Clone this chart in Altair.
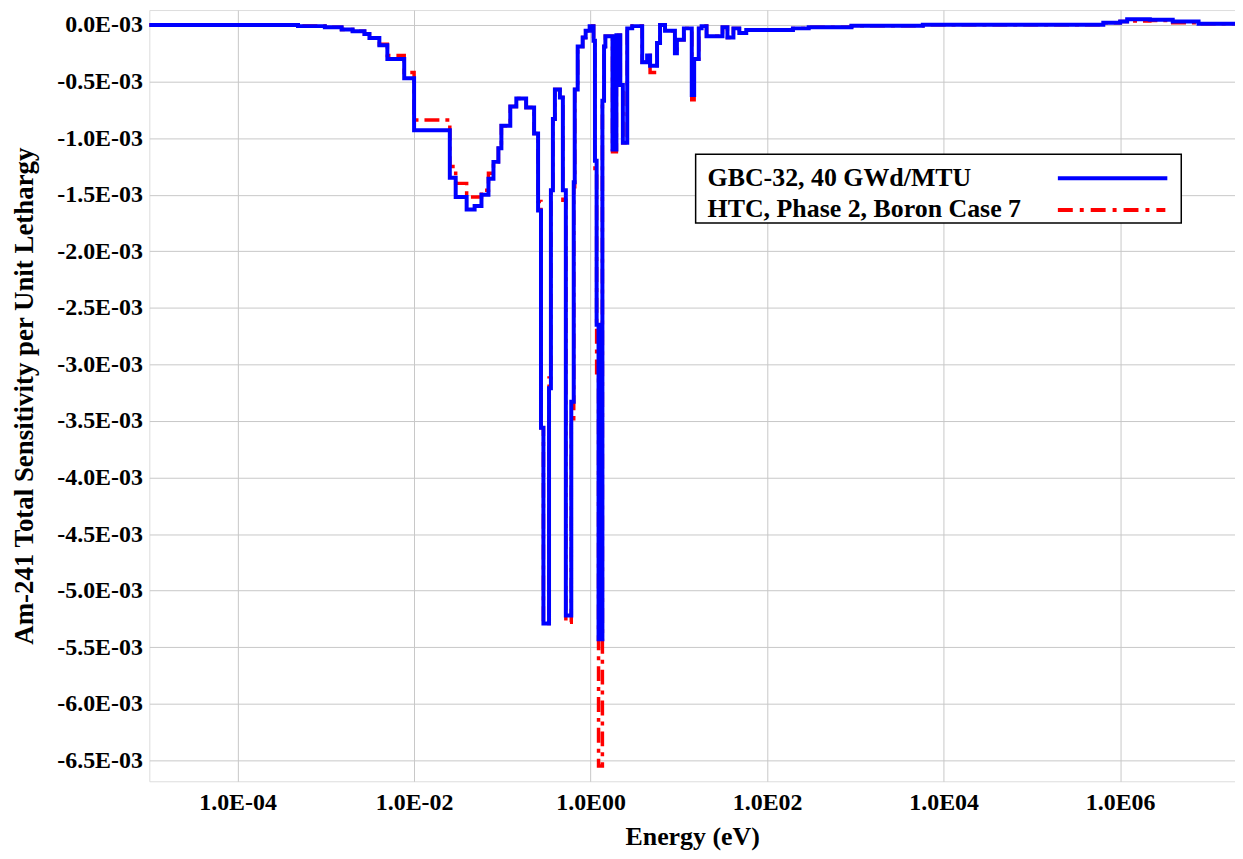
import altair as alt
import pandas as pd

# Energy group lower bounds (eV) and sensitivities (units of 1E-03 per unit lethargy)
energy_ev = [
    1e-5, 4.84e-4, 9.75e-4, 1.51e-3, 2.01e-3, 2.74e-3, 3.12e-3, 4.04e-3, 4.98e-3, 7.73e-3,
    1.0e-2, 2.54e-2, 2.96e-2, 3.94e-2, 4.85e-2, 5.80e-2, 6.96e-2, 7.93e-2, 9.02e-2, 9.75e-2,
    0.123, 0.144, 0.186, 0.229, 0.254, 0.274, 0.292, 0.338, 0.355, 0.374,
    0.394, 0.449, 0.485, 0.524, 0.604, 0.644, 0.661, 0.714, 0.813, 0.879,
    0.975, 1.08, 1.12, 1.17, 1.23, 1.36, 1.42, 1.47, 1.77, 1.96,
    2.17, 2.32, 2.60, 2.96, 3.84, 4.37, 4.72, 5.66, 6.12, 6.97,
    9.02, 9.50, 11.4, 14.0, 14.9, 16.8, 18.1, 20.6, 31.2, 35.5,
    41.5, 48.4, 58.0, 196.0, 296.0, 902.0, 5.81e3, 6.44e5, 1.0e6, 1.2e6,
    2.17e6, 3.94e6, 7.73e6, 2.0e7,
]

gbc32 = [
    0.0, -0.01, -0.02, -0.04, -0.055, -0.08, -0.115, -0.18, -0.30, -0.47,
    -0.93, -1.35, -1.52, -1.63, -1.60, -1.50, -1.36, -1.21, -1.09, -0.89,
    -0.72, -0.65, -0.73, -0.96, -1.64, -3.56, -5.29, -3.21, -1.46, -0.83,
    -0.57, -0.64, -1.46, -5.22, -3.33, -1.39, -0.57, -0.19, -0.11, -0.05,
    -0.01, -0.14, -1.20, -2.65, -5.43, -0.67, -0.19, -0.10, -1.10, -0.09,
    -0.53, -1.04, -0.03, -0.01, -0.33, -0.27, -0.36, -0.16, 0.0, -0.05,
    -0.25, -0.13, -0.03, -0.62, -0.30, -0.03, -0.01, -0.10, -0.02, -0.11,
    -0.03, -0.07, -0.045, -0.03, -0.02, -0.006, 0.003, 0.02, 0.03, 0.05,
    0.047, 0.03, 0.01, 0.01,
]

htc = [
    0.0, -0.01, -0.02, -0.04, -0.055, -0.08, -0.115, -0.17, -0.27, -0.42,
    -0.84, -1.25, -1.40, -1.52, -1.52, -1.46, -1.31, -1.21, -1.09, -0.89,
    -0.72, -0.65, -0.73, -0.96, -1.56, -3.56, -5.29, -3.12, -1.43, -0.83,
    -0.57, -0.64, -1.55, -5.28, -3.48, -1.43, -0.57, -0.19, -0.11, -0.05,
    -0.01, -0.14, -1.30, -3.10, -6.55, -0.67, -0.19, -0.10, -1.12, -0.09,
    -0.53, -1.04, -0.03, -0.01, -0.33, -0.27, -0.42, -0.16, 0.0, -0.05,
    -0.25, -0.13, -0.03, -0.66, -0.30, -0.03, -0.01, -0.10, -0.02, -0.11,
    -0.03, -0.07, -0.045, -0.03, -0.02, -0.006, 0.003, 0.02, 0.03, 0.035,
    0.04, 0.02, 0.01, 0.01,
]

series_names = ["GBC-32, 40 GWd/MTU", "HTC, Phase 2, Boron Case 7"]
x_ticks = [1e-4, 1e-2, 1.0, 1e2, 1e4, 1e6]
y_ticks = [0.0, -0.5, -1.0, -1.5, -2.0, -2.5, -3.0, -3.5, -4.0, -4.5, -5.0, -5.5, -6.0, -6.5]

FONT = "Liberation Serif"

df_blue = pd.DataFrame({"energy": energy_ev, "sens": gbc32})
df_red = pd.DataFrame({"energy": energy_ev, "sens": htc})

x_enc = alt.X(
    "energy:Q",
    scale=alt.Scale(type="log", domain=[1e-5, 2e7], nice=False),
    axis=alt.Axis(
        title="Energy (eV)",
        values=x_ticks,
        labelExpr="'1.0E' + (round(log(datum.value)/LN10) < 0 ? '-' : '') + (abs(round(log(datum.value)/LN10)) < 10 ? '0' : '') + abs(round(log(datum.value)/LN10))",
        ticks=False,
        domain=False,
        grid=True,
        gridColor="#c8c8c8",
        gridWidth=1,
        labelFont=FONT,
        labelFontSize=24,
        labelFontWeight="bold",
        labelColor="black",
        labelPadding=9,
        titleFont=FONT,
        titleFontSize=26,
        titleFontWeight="bold",
        titleColor="black",
        titlePadding=10,
    ),
)
y_enc = alt.Y(
    "sens:Q",
    scale=alt.Scale(domain=[-6.685, 0.132], nice=False, zero=False),
    axis=alt.Axis(
        title="Am-241 Total Sensitivity per Unit Lethargy",
        values=y_ticks,
        labelExpr="(datum.value < 0 ? '-' : '') + format(abs(datum.value), '.1f') + 'E-03'",
        ticks=False,
        domain=False,
        grid=True,
        gridColor="#c8c8c8",
        gridWidth=1,
        labelFont=FONT,
        labelFontSize=24,
        labelFontWeight="bold",
        labelColor="black",
        labelPadding=7,
        titleFont=FONT,
        titleFontSize=27,
        titleFontWeight="bold",
        titleColor="black",
        titlePadding=18,
    ),
)

red_line = alt.Chart(df_red).mark_line(
    interpolate="step-after", color="#ff0000", strokeWidth=3.5, strokeDash=[15, 6, 4, 6]
).encode(x=x_enc, y=y_enc)

blue_line = alt.Chart(df_blue).mark_line(
    interpolate="step-after", color="#0000ff", strokeWidth=4
).encode(x="energy:Q", y="sens:Q")

# Legend box (drawn manually: labels left, line samples right)
one = pd.DataFrame({"k": [0]})
legend_box = alt.Chart(one).mark_rect(
    fill="white", stroke="black", strokeWidth=1.5
).encode(x=alt.value(549), x2=alt.value(1037), y=alt.value(145), y2=alt.value(214))

leg_text1 = alt.Chart(pd.DataFrame({"label": [series_names[0]]})).mark_text(
    align="left", baseline="middle", font=FONT, fontSize=26, fontWeight="bold", color="black"
).encode(x=alt.value(561), y=alt.value(169), text="label:N")
leg_text2 = alt.Chart(pd.DataFrame({"label": [series_names[1]]})).mark_text(
    align="left", baseline="middle", font=FONT, fontSize=26, fontWeight="bold", color="black"
).encode(x=alt.value(561), y=alt.value(200), text="label:N")

leg_line1 = alt.Chart(one).mark_rule(color="#0000ff", strokeWidth=4).encode(
    x=alt.value(913), x2=alt.value(1023), y=alt.value(169)
)
leg_line2 = alt.Chart(one).mark_rule(
    color="#ff0000", strokeWidth=4, strokeDash=[15, 7, 4, 7]
).encode(x=alt.value(913), x2=alt.value(1021), y=alt.value(201))

chart = alt.layer(
    red_line, blue_line, legend_box, leg_text1, leg_text2, leg_line1, leg_line2
).properties(
    width=1091,
    height=775,
    autosize=alt.AutoSizeParams(type="none"),
    padding={"left": 142, "top": 0, "right": 0, "bottom": 68},
).configure_view(
    stroke="#3a3a3a", strokeWidth=2
).configure(background="white")

chart.save("out.html", embed_options={"renderer": "svg", "actions": False})
